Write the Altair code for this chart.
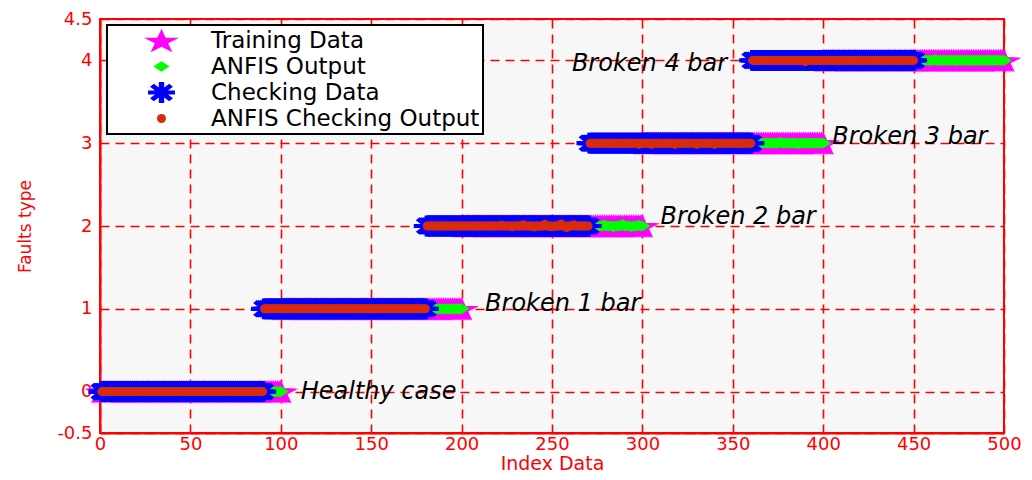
import altair as alt
import pandas as pd

# ---- data ----
series_names = ["Training Data", "ANFIS Output", "Checking Data", "ANFIS Checking Output"]
series_colors = ["#ff00ff", "#00ff00", "#0000ff", "#d92b0b"]

fault_classes = [0, 1, 2, 3, 4]
training_per_class = 100
checking_per_class = 90

# small deviations of the ANFIS outputs from the target class (index: offset)
anfis_train_dev = {279: 0.015, 284: -0.012, 289: 0.02, 294: -0.012, 298: 0.01,
                   376: 0.01, 386: -0.01, 462: 0.01}
anfis_check_dev = {222: 0.01, 228: -0.01, 234: 0.015, 240: -0.012, 246: 0.02,
                   250: -0.01, 255: 0.025, 258: -0.02, 262: 0.015,
                   298: -0.015, 305: -0.015, 318: -0.015, 330: -0.015, 340: -0.015,
                   390: -0.015}

label_text = ["Healthy case", "Broken 1 bar", "Broken 2 bar", "Broken 3 bar", "Broken 4 bar"]
label_x = [111, 213, 310, 405, 261]
label_y = [0.0, 1.06, 2.11, 3.07, 3.96]

x_ticks = [0, 50, 100, 150, 200, 250, 300, 350, 400, 450, 500]
y_ticks = [-0.5, 0, 1, 2, 3, 4, 4.5]

# ---- build table ----
rows = []
for k in fault_classes:
    for i in range(training_per_class):
        idx = k * training_per_class + i + 1
        rows.append({"index": idx, "value": k, "series": series_names[0]})
for k in fault_classes:
    for i in range(training_per_class):
        idx = k * training_per_class + i + 1
        rows.append({"index": idx, "value": k + anfis_train_dev.get(idx, 0), "series": series_names[1]})
for k in fault_classes:
    for i in range(checking_per_class):
        idx = k * checking_per_class + i + 1
        rows.append({"index": idx, "value": k, "series": series_names[2]})
for k in fault_classes:
    for i in range(checking_per_class):
        idx = k * checking_per_class + i + 1
        rows.append({"index": idx, "value": k + anfis_check_dev.get(idx, 0), "series": series_names[3]})
df = pd.DataFrame(rows)

labels_df = pd.DataFrame({"x": label_x, "y": label_y, "text": label_text})

star_path = ("M0,-0.667L0.236,-0.157L1,-0.157L0.382,0.157L0.618,0.667L0,0.352"
             "L-0.618,0.667L-0.382,0.157L-1,-0.157L-0.236,-0.157Z")
asterisk_path = ("M-0.2,-0.769L0.2,-0.769L0.2,0.769L-0.2,0.769Z"
                 "M-1,-0.154L1,-0.154L1,0.154L-1,0.154Z"
                 "M0.566,-0.653L0.849,-0.435L-0.566,0.653L-0.849,0.435Z"
                 "M-0.849,-0.435L-0.566,-0.653L0.849,0.435L0.566,0.653Z")
diamond_path = "M-1,0L0,-0.667L1,0L0,0.667Z"
series_shapes = [star_path, diamond_path, asterisk_path, "circle"]
series_sizes = [1225, 256, 729, 81]

legend = alt.Legend(
    title=None, orient="none", legendX=7, legendY=6,
    fillColor="white", strokeColor="black", padding=3,
    labelFont="DejaVu Sans", labelFontSize=23, labelColor="black", labelLimit=500,
    symbolOffset=33, labelOffset=31, rowPadding=1, clipHeight=25,
    labelExpr="datum.label + '\u2002\u2002'",
)

x_enc = alt.X("index:Q", scale=alt.Scale(domain=[0, 500], nice=False),
              axis=alt.Axis(values=x_ticks, title="Index Data", labelExpr="'' + datum.value",
                            labelPadding=2, titlePadding=1, titleFontSize=19,
                            titleFont="DejaVu Sans"))
y_enc = alt.Y("value:Q", scale=alt.Scale(domain=[-0.5, 4.5], nice=False, zero=False),
              axis=alt.Axis(values=y_ticks, title="Faults type", labelExpr="'' + datum.value",
                            labelPadding=8, titlePadding=22, titleFontSize=17,
                            titleFont="DejaVu Sans"))

points = alt.Chart(df).mark_point(filled=True, opacity=1, strokeWidth=0).encode(
    x=x_enc,
    y=y_enc,
    color=alt.Color("series:N", scale=alt.Scale(domain=series_names, range=series_colors), legend=legend),
    shape=alt.Shape("series:N", scale=alt.Scale(domain=series_names, range=series_shapes), legend=legend),
    size=alt.Size("series:N", scale=alt.Scale(type="ordinal", domain=series_names, range=series_sizes),
                  legend=legend),
)

texts = alt.Chart(labels_df).mark_text(
    align="left", baseline="middle", font="DejaVu Sans", fontStyle="italic",
    fontSize=24, color="black"
).encode(x="x:Q", y="y:Q", text="text:N")

chart = alt.layer(points, texts).properties(
    width=904, height=414,
    padding={"left": 92, "top": 11, "right": 20, "bottom": 39},
    autosize=alt.AutoSizeParams(type="none"),
).configure_view(
    fill="#f7f7f7", stroke="#ff0000", strokeWidth=2
).configure_axis(
    domainColor="#ff0000", domainWidth=2,
    grid=True, gridColor="#ff0000", gridDash=[9, 6], gridWidth=1.6, gridOpacity=1,
    ticks=False, tickSize=0,
    labelColor="#ff0000", labelFont="DejaVu Sans", labelFontSize=18,
    labelFlush=False, labelOverlap=False,
    titleColor="#ff0000", titleFontWeight="normal",
).configure_legend(strokeWidth=2)

chart.save("out.html", embed_options={"renderer": "svg", "actions": False})
